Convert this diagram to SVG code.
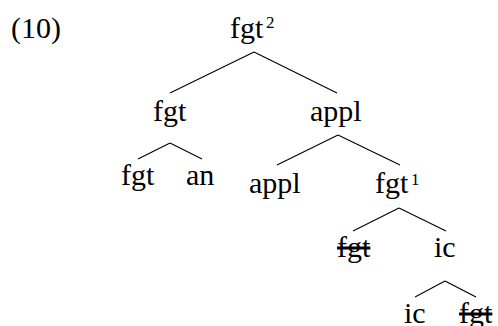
<svg xmlns="http://www.w3.org/2000/svg" width="498" height="326" viewBox="0 0 498 326" font-family="'Liberation Serif', 'Times New Roman', 'DejaVu Serif', serif">
<style>
text{font-family:'Liberation Serif','Times New Roman','DejaVu Serif',serif;font-size:30px;fill:#000}
.sup{font-size:17px}
.del{text-decoration:line-through}
#connectors line{stroke:#000;stroke-width:1.1;fill:none}
</style>
<rect width="498" height="326" fill="#fff"/>
<text id="ex-number" x="11" y="38">(10)</text>
<g id="connectors">
<line x1="254" y1="52" x2="170" y2="93"/>
<line x1="254" y1="52" x2="337" y2="93"/>
<line x1="170" y1="143" x2="138" y2="159"/>
<line x1="170" y1="143" x2="202" y2="159"/>
<line x1="338" y1="135" x2="277" y2="165"/>
<line x1="338" y1="135" x2="400" y2="165"/>
<line x1="399" y1="208" x2="353" y2="231"/>
<line x1="399" y1="208" x2="446" y2="231"/>
<line x1="445" y1="281" x2="415" y2="297"/>
<line x1="445" y1="281" x2="476" y2="297"/>
</g>
<g id="n-root"><text x="230" y="38">fgt<tspan class="sup" x="266" y="28">2</tspan></text></g>
<g id="n-fgt"><text x="153" y="121">fgt</text></g>
<g id="n-appl"><text x="310" y="121">appl</text></g>
<g id="n-fgt-leaf"><text x="121" y="185">fgt</text></g>
<g id="n-an"><text x="186" y="185">an</text></g>
<g id="n-appl-leaf"><text x="249" y="193">appl</text></g>
<g id="n-fgt1"><text x="375" y="193">fgt<tspan class="sup" x="411" y="185">1</tspan></text></g>
<g id="n-fgt-del1"><text class="del" x="337" y="257">fgt</text></g>
<g id="n-ic"><text x="434" y="257">ic</text></g>
<g id="n-ic-leaf"><text x="404" y="323">ic</text></g>
<g id="n-fgt-del2"><text class="del" x="459" y="323">fgt</text></g>
</svg>
